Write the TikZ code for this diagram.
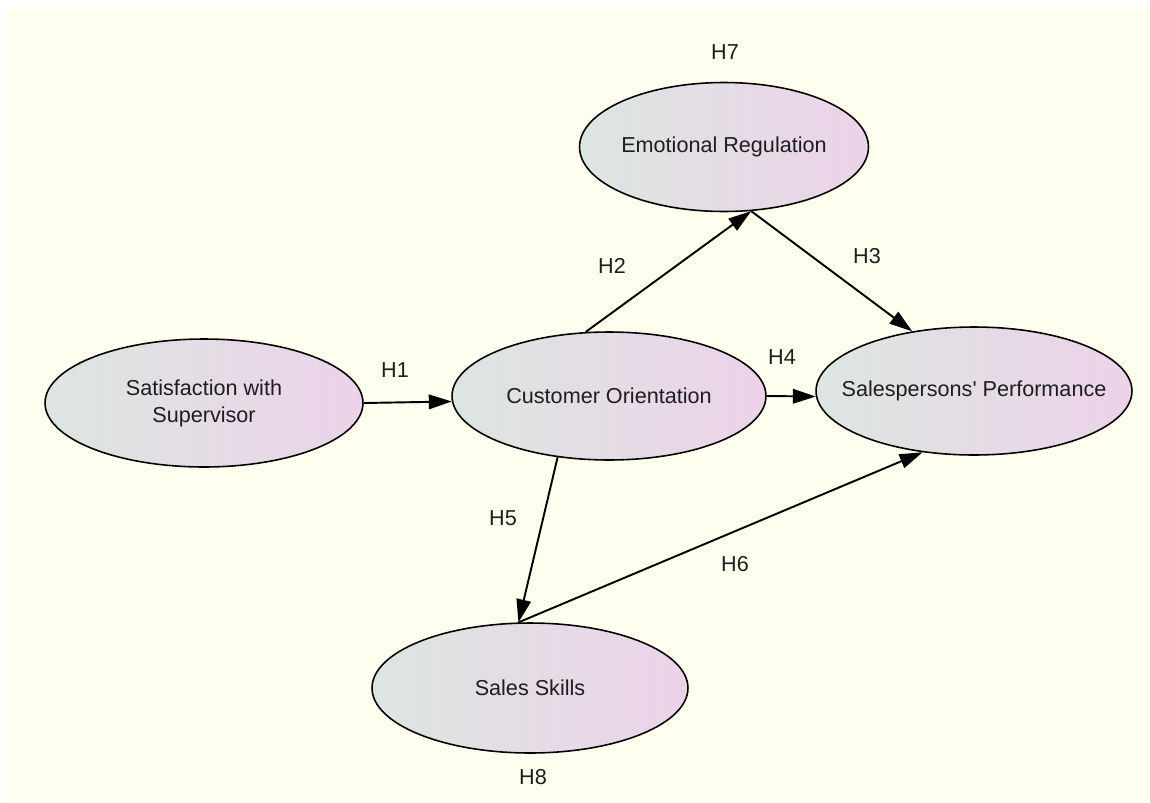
\documentclass[tikz,border=0pt]{standalone}
\usepackage{fontspec}
\setmainfont{Liberation Sans}
\usepackage{tikz}
\usetikzlibrary{calc,positioning,arrows,arrows.meta,shapes}

\definecolor{bgyellow}{RGB}{255,255,240}
\definecolor{ellleft}{RGB}{221,229,225}
\definecolor{ellright}{RGB}{236,211,233}
\definecolor{txt}{RGB}{30,30,30}

\begin{document}
\begin{tikzpicture}[x=0.02cm,y=-0.02cm,
    every node/.style={font=\fontsize{12.3pt}{15.3pt}\selectfont,text=txt},
    con/.style={ellipse,draw=black,line width=0.9pt,left color=ellleft,right color=ellright,
      minimum height=2.56cm,inner xsep=-0.8cm,inner ysep=0pt,align=center},
    hyp/.style={inner sep=0pt},
    >={Triangle[length=0.46cm,width=0.29cm]}]
     \useasboundingbox (0,0) rectangle (1150,802);
     \fill[white] (0,0) rectangle (1150,802);
     \fill[bgyellow] (7,9) rectangle (1150,802);

     \node[con,minimum width=6.36cm] (sat) at (204,403) {Satisfaction with\\Supervisor};
     \node[con,minimum width=6.28cm] (co) at (609,396) {Customer Orientation};
     \node[con,minimum width=5.78cm,minimum height=2.58cm] (er) at (724,147) {Emotional Regulation};
     \node[con,minimum width=6.32cm] (sp) at (974,391) {Salespersons\textquotesingle\ Performance};
     \node[con,minimum width=6.32cm,minimum height=2.6cm] (ss) at (530,688) {Sales Skills};

     \node[hyp] (h1) at (395,370) {H1};
     \node[hyp] (h2) at (612,266) {H2};
     \node[hyp] (h3) at (867,256) {H3};
     \node[hyp] (h4) at (782,357) {H4};
     \node[hyp] (h5) at (503,518) {H5};
     \node[hyp] (h6) at (735,564) {H6};
     \node[hyp] (h7) at (725,52) {H7};
     \node[hyp] (h8) at (533,777) {H8};

     \draw[->,line width=1.1pt] (sat.east) -- (co.182.6);
     \draw[->,line width=1.1pt] (co.110.6) -- (er.293);
     \draw[->,line width=1.1pt] (er.293) -- (sp.136.4);
     \draw[->,line width=1.1pt] (co.east) -- (sp.182);
     \draw[->,line width=1.1pt] (co.230) -- (ss.100.5);
     \draw[->,line width=1.1pt] (ss.100.5) -- (sp.230);
    \end{tikzpicture}
\end{document}
